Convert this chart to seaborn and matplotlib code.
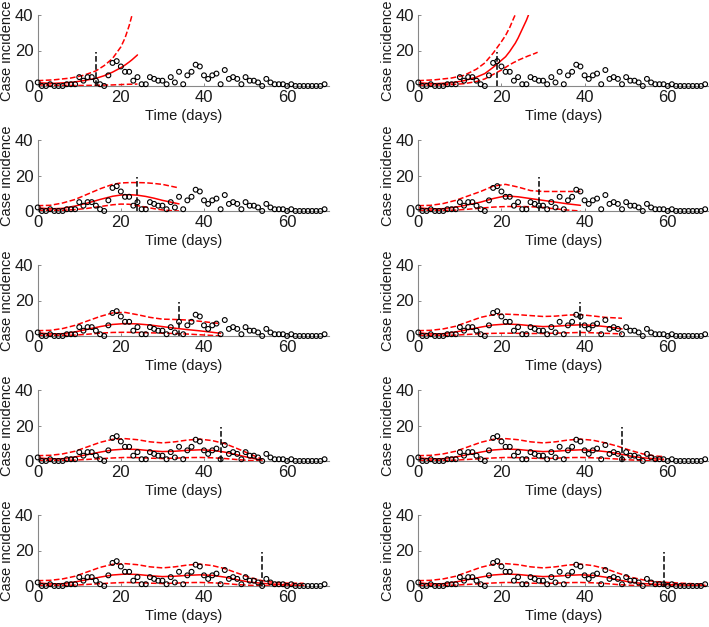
import numpy as np
import pandas as pd
import matplotlib
matplotlib.use('Agg')
import matplotlib.pyplot as plt
import seaborn as sns

nan = np.nan

# observed daily cases, days 0..69
days = list(range(70))
cases = [2, 0, 0, 1, 0, 0, 0, 1, 1, 1,
         5, 3, 5, 5, 3, 1, 0, 6, 13, 14,
         11, 8, 8, 3, 5, 1, 1, 5, 4, 3,
         3, 1, 5, 2, 8, 1, 6, 8, 12, 11,
         6, 4, 6, 7, 1, 9, 4, 5, 4, 1,
         5, 3, 3, 2, 0, 4, 2, 1, 1, 1,
         0, 1, 0, 0, 0, 0, 0, 0, 0, 1]

# forecast start day for each panel
cut_days = [14, 19, 24, 29, 34, 39, 44, 49, 54, 59]
vline_top = 19

# fitted mean (mid) and 95% bounds (lo / hi)
fit_t = [
    [0, 4, 8, 11, 14, 16, 18, 20, 21, 22, 22.7, 24],
    [0, 4, 8, 11, 14, 16, 18, 20, 21, 22, 23, 23.3, 24, 25, 26, 26.5, 27, 28, 28.7],
    [0, 3, 6, 9, 12, 15, 18, 20, 22, 24, 26, 28, 30, 32, 34],
    [0, 3, 6, 9, 12, 15, 18, 21, 24, 27, 30, 33, 36, 39],
    [0, 3, 6, 9, 12, 15, 18, 21, 24, 27, 30, 33, 36, 39, 42, 44],
    [0, 3, 6, 9, 12, 15, 18, 21, 24, 27, 30, 33, 36, 39, 42, 45, 49],
    [0, 3, 6, 9, 12, 15, 18, 21, 24, 27, 30, 33, 36, 39, 42, 45, 48, 51, 54],
    [0, 3, 6, 9, 12, 15, 18, 21, 24, 27, 30, 33, 36, 39, 42, 45, 48, 51, 54, 57, 59],
    [0, 3, 6, 9, 12, 15, 18, 21, 24, 27, 30, 33, 36, 39, 42, 45, 48, 51, 54, 57, 60, 64],
    [0, 3, 6, 9, 12, 15, 18, 21, 24, 27, 30, 33, 36, 39, 42, 45, 48, 51, 54, 57, 60, 63, 66, 69],
]
fit_mid = [
    [1.8, 1.5, 2, 3, 4.3, 5.8, 7.8, 10.3, 11.8, 13.5, 14.8, 17.5],
    [1.8, 1.3, 1.8, 3, 5, 7, 10.5, 14.5, 16.5, 19.5, 23, 24, 27, 32, 37, 40, nan, nan, nan],
    [1.8, 1.2, 1.5, 2.8, 4.5, 6.5, 8.3, 9, 9.2, 8.9, 8.2, 7.2, 6, 5, 4],
    [1.8, 1.2, 1.3, 2.2, 3.5, 5, 7, 8.5, 8, 7, 6, 5, 4, 3.2],
    [1.8, 1.2, 1.3, 2.3, 3.8, 5.3, 6.5, 7, 6.8, 6.2, 5.3, 4.4, 3.6, 2.9, 2.1, 1.5],
    [1.8, 1.2, 1.3, 2.3, 3.6, 5, 6.2, 6.7, 6.5, 5.8, 5.3, 5.5, 6, 6.3, 6, 5.3, 4],
    [1.8, 1.2, 1.3, 2.3, 3.6, 5, 6.2, 6.7, 6.5, 5.8, 5.3, 5.5, 6, 6.3, 6, 5, 3.5, 1.8, 0.5],
    [1.8, 1.2, 1.3, 2.3, 3.6, 5, 6.2, 6.7, 6.5, 5.8, 5.3, 5.5, 6, 6.3, 6, 5.3, 4.2, 2.8, 1.8, 1.2, 1],
    [1.8, 1.2, 1.3, 2.3, 3.6, 5, 6.2, 6.7, 6.5, 5.8, 5.3, 5.5, 6, 6.3, 6, 5, 3.5, 2.2, 1.5, 1, 0.6, 0.3],
    [1.8, 1.2, 1.3, 2.3, 3.6, 5, 6.2, 6.7, 6.5, 5.8, 5.3, 5.5, 6, 6.3, 6, 5, 3.5, 2.2, 1.4, 1, 0.8, 0.6, 0.4, 0.3],
]
fit_hi = [
    [3, 3.5, 4.5, 6, 8.5, 11.5, 15.5, 22, 27, 34, 40, nan],
    [3, 3.5, 4.5, 6, 9.5, 13, 18.5, 25, 28.5, 33, 38.5, 40, nan, nan, nan, nan, nan, nan, nan],
    [3, 3.2, 4.5, 6.5, 9.5, 12.5, 15, 15.8, 16, 16, 15.9, 15.5, 15, 14, 13],
    [3, 3.2, 4.2, 6, 8.5, 11, 14, 15, 13.5, 11.5, 11, 11, 11, 11],
    [3, 3.2, 4.2, 6, 8.5, 11, 13, 13.3, 12, 10.5, 9.5, 9.3, 9, 8.3, 7.5, 7],
    [3, 3.2, 4, 5.5, 8, 10.5, 12, 12.3, 12, 11.5, 11, 11.2, 11.8, 12, 11.3, 10.5, 10],
    [3, 3.2, 4, 5.5, 8, 10.5, 12.2, 12.6, 12, 10.8, 10.2, 10.8, 11.8, 12.3, 11.5, 9.8, 7, 4, 1],
    [3, 3.2, 4, 5.5, 8, 10.5, 12.2, 12.6, 12, 10.8, 10.2, 10.8, 11.8, 12.3, 11.7, 10.2, 8.3, 6, 4, 2.8, 2.5],
    [3, 3.2, 4, 5.5, 8, 10.5, 12.2, 12.6, 12, 10.8, 10.2, 10.8, 11.8, 12.3, 11.5, 9.8, 7.3, 4.8, 3, 2, 1.6, 1.5],
    [3, 3.2, 4, 5.5, 8, 10.5, 12.2, 12.6, 12, 10.8, 10.2, 10.8, 11.8, 12.3, 11.5, 9.8, 7.3, 5, 3.5, 2.5, 2, 1.6, 1.3, 1.1],
]
fit_lo = [
    [0.6, 0.4, 0.3, 0.3, 0.4, 0.5, 0.6, 0.8, 0.9, 1.0, 1.0, 1.1],
    [0.5, 0.5, 0.8, 1.3, 2.5, 4, 6.5, 9, 10.5, 12, 13.3, 13.6, 14.5, 15.5, 16.5, 17, 17.4, 18.3, 19],
    [0.5, 0.3, 0.4, 0.8, 1.5, 2.5, 3.5, 3.9, 3.8, 3, 2.2, 1.3, 0.6, 0.2, 0],
    [0.4, 0.3, 0.3, 0.5, 1, 1.6, 2.2, 2.5, 2.6, 2.4, 2, 1.2, 0.5, 0],
    [0.4, 0.3, 0.3, 0.5, 1, 1.6, 2, 2.1, 2, 1.8, 1.6, 1.4, 1.1, 0.7, 0.3, 0],
    [0.4, 0.3, 0.3, 0.5, 0.9, 1.3, 1.5, 1.6, 1.5, 1.4, 1.4, 1.6, 1.8, 2, 1.8, 1.5, 1.2],
    [0.4, 0.3, 0.3, 0.5, 0.9, 1.3, 1.7, 2, 1.9, 1.6, 1.4, 1.6, 1.9, 2, 1.8, 1.4, 0.8, 0.3, 0],
    [0.4, 0.3, 0.3, 0.5, 0.9, 1.3, 1.7, 2, 1.9, 1.6, 1.4, 1.6, 1.9, 2, 1.8, 1.5, 1.1, 0.6, 0.3, 0.1, 0],
    [0.4, 0.3, 0.3, 0.5, 0.9, 1.3, 1.7, 2, 1.9, 1.6, 1.4, 1.6, 1.9, 2, 1.8, 1.4, 0.8, 0.4, 0.1, 0, 0, 0],
    [0.4, 0.3, 0.3, 0.5, 0.9, 1.3, 1.7, 2, 1.9, 1.6, 1.4, 1.6, 1.9, 2, 1.8, 1.4, 0.8, 0.4, 0.1, 0, 0, 0, 0, 0],
]

sns.set_theme(style='ticks')
plt.rcParams['font.family'] = ['Liberation Sans', 'DejaVu Sans']

W, H = 709, 627
fig = plt.figure(figsize=(W / 100, H / 100), dpi=100)

col_left = [37.7, 418.3]
ax_w = 291
ax_h = 71
row_bottom = [86, 211, 336, 461, 586]

obs = pd.DataFrame({'day': days, 'cases': cases})

for i in range(10):
    r, c = divmod(i, 2)
    ax = fig.add_axes([col_left[c] / W, 1 - row_bottom[r] / H, ax_w / W, ax_h / H])

    fit = pd.DataFrame({'t': fit_t[i], 'mid': fit_mid[i], 'lo': fit_lo[i], 'hi': fit_hi[i]})
    for col, ls in [('mid', '-'), ('lo', '--'), ('hi', '--')]:
        d = fit[['t', col]].dropna()
        sns.lineplot(data=d, x='t', y=col, ax=ax, color='red', linestyle=ls,
                     linewidth=1.1, sort=False, estimator=None)

    ax.vlines(cut_days[i], 0, vline_top, colors='black', linestyles='--', linewidth=1.1, zorder=4)

    sns.scatterplot(data=obs, x='day', y='cases', ax=ax, marker='o', s=12,
                    color='black', linewidth=0.8, zorder=5, clip_on=False)
    pts = ax.collections[-1]
    pts.set_facecolor('none')
    pts.set_edgecolor('black')

    ax.set_xlim(0, 70)
    ax.set_ylim(0, 40)
    ax.set_xticks([0, 20, 40, 60])
    ax.set_yticks([0, 20, 40])
    ax.tick_params(direction='in', length=2.5, width=0.6, color='#777777',
                   labelsize=12, labelcolor='#1a1a1a', pad=3)
    sns.despine(ax=ax)
    for s in ['left', 'bottom']:
        ax.spines[s].set_color('#888888')
        ax.spines[s].set_linewidth(0.8)
    ax.set_xlabel('Time (days)', fontsize=10.5, color='#1a1a1a')
    ax.set_ylabel('Case incidence', fontsize=10.5, color='#1a1a1a')
    ax.xaxis.set_label_coords(0.5, -0.33)
    ax.yaxis.set_label_coords(-0.08, 0.5)

fig.savefig('out.png', dpi=100)
